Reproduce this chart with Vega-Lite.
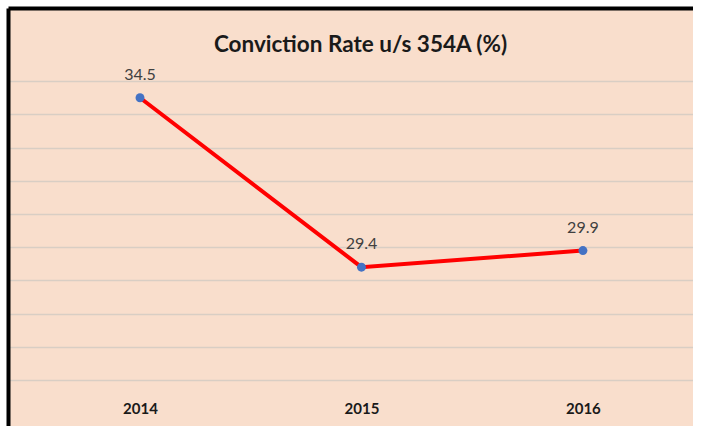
{
  "$schema": "https://vega.github.io/schema/vega-lite/v6.json",
  "usermeta": {"embedOptions": {"actions": false}},
  "width": 685,
  "height": 418,
  "autosize": {"type": "none"},
  "padding": {"left": 8, "top": 8, "right": 0, "bottom": 0},
  "background": "#FFFFFF",
  "config": {"view": {"fill": "#F9DECC", "stroke": null}, "font": "Lato"},
  "title": {"text": "Conviction Rate u/s 354A (%)", "font": "Lato", "fontSize": 22.5, "fontWeight": "bold", "color": "#1a1a1a", "anchor": "middle", "offset": -59, "baseline": "middle", "dx": 10},
  "data": {"values": [
    {"year": 2014, "rate": 34.5},
    {"year": 2015, "rate": 29.4},
    {"year": 2016, "rate": 29.9}
  ]},
  "layer": [
    {
      "mark": {"type": "line", "color": "#FF0000", "strokeWidth": 4},
      "encoding": {
        "x": {"field": "year", "type": "quantitative", "scale": {"domain": [2013.404, 2016.497], "nice": false, "zero": false},
          "axis": {"orient": "bottom", "values": [2014, 2015, 2016], "format": "d", "title": null, "offset": -18, "domain": false, "ticks": false, "tickSize": 0, "grid": false, "labelPadding": 0, "labelBaseline": "middle", "labelFont": "Lato", "labelFontSize": 15, "labelFontWeight": "bold", "labelColor": "#1a1a1a"}},
        "y": {"field": "rate", "type": "quantitative", "scale": {"domain": [24.62, 37.2], "nice": false, "zero": false},
          "axis": {"orient": "left", "values": [26, 27, 28, 29, 30, 31, 32, 33, 34, 35], "title": null, "labels": false, "ticks": false, "tickSize": 0, "domain": true, "domainColor": "#000000", "domainWidth": 4, "grid": true, "gridColor": "#D9CEC4", "gridWidth": 1.5, "gridOpacity": 1}}
      }
    },
    {
      "mark": {"type": "point", "filled": true, "color": "#4472C4", "size": 80, "opacity": 1},
      "encoding": {
        "x": {"field": "year", "type": "quantitative",
          "axis": {"orient": "top", "title": null, "labels": false, "ticks": false, "tickSize": 0, "grid": false, "domain": true, "domainColor": "#000000", "domainWidth": 4}},
        "y": {"field": "rate", "type": "quantitative"}
      }
    },
    {
      "mark": {"type": "text", "dy": -23, "fontSize": 16, "font": "Lato", "color": "#404040"},
      "encoding": {
        "x": {"field": "year", "type": "quantitative", "axis": null},
        "y": {"field": "rate", "type": "quantitative"},
        "text": {"field": "rate", "type": "quantitative", "format": ".1f"}
      }
    }
  ],
  "resolve": {"axis": {"x": "independent"}}
}
